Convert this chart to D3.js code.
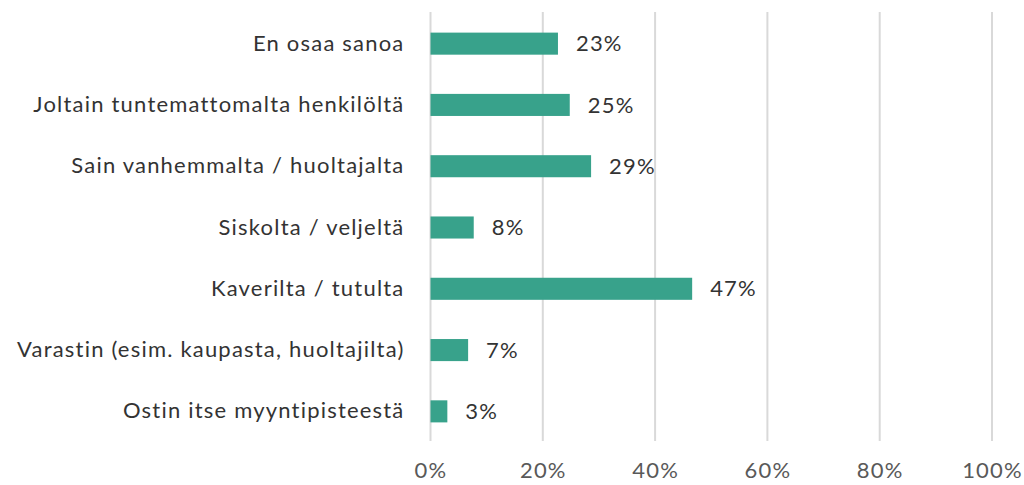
<!DOCTYPE html>
<html>
<head>
<meta charset="utf-8">
<script src="https://cdn.jsdelivr.net/npm/d3@7"></script>
<style>
  body { margin: 0; background: #fff; }
  text { font-family: Lato, "Open Sans", sans-serif; font-size: 22px; letter-spacing: 1.2px; }
</style>
</head>
<body>
<svg class="chart" width="1024" height="485"></svg>
<script>
// rows, top to bottom
var categories = [
    "En osaa sanoa",
    "Joltain tuntemattomalta henkilöltä",
    "Sain vanhemmalta / huoltajalta",
    "Siskolta / veljeltä",
    "Kaverilta / tutulta",
    "Varastin (esim. kaupasta, huoltajilta)",
    "Ostin itse myyntipisteestä"
];
var values = [0.227, 0.248, 0.286, 0.077, 0.466, 0.067, 0.030];
var tickValues = [0, 0.2, 0.4, 0.6, 0.8, 1.0];

var margin = {top: 13, right: 32, bottom: 43, left: 430.5};
var svg = d3.select(".chart");
var w = +svg.attr("width") - margin.left - margin.right;
var h = +svg.attr("height") - margin.top - margin.bottom;

var g = svg.append("g").attr("transform", "translate(" + margin.left + "," + margin.top + ")");

var xScale = d3.scaleLinear().domain([0, 1]).range([0, w]);
var yScale = d3.scaleBand().domain(categories).range([0, h]).paddingInner(0.64).paddingOuter(0.32);

var fmt = d3.format(".0%");

// gridlines
g.selectAll("line.grid")
    .data(tickValues)
    .enter()
    .append("line")
    .attr("class", "grid")
    .attr("x1", function(d) { return xScale(d); })
    .attr("x2", function(d) { return xScale(d); })
    .attr("y1", -1)
    .attr("y2", h - 1)
    .attr("stroke", "#d9d9d9")
    .attr("stroke-width", 2);

// x axis labels
var xAxis = d3.axisBottom(xScale).tickValues(tickValues).tickFormat(fmt).tickSize(0).tickPadding(20);
var ax = g.append("g").attr("transform", "translate(0," + h + ")").call(xAxis);
ax.select(".domain").remove();
ax.selectAll("text")
    .attr("fill", "#595959")
    .style("font-size", "22px")
    .style("font-family", null);

// category labels
var yAxis = d3.axisLeft(yScale).tickSize(0).tickPadding(26);
var ay = g.append("g").call(yAxis);
ay.select(".domain").remove();
ay.selectAll("text")
    .attr("fill", "#333333")
    .style("font-size", "22px");
ay.attr("font-family", null).attr("font-size", null);
ax.attr("font-family", null).attr("font-size", null);

// bars
g.selectAll("rect.bar")
    .data(values)
    .enter()
    .append("rect")
    .attr("class", "bar")
    .attr("x", xScale(0))
    .attr("y", function(d, i) { return yScale(categories[i]); })
    .attr("width", function(d) { return xScale(d) - xScale(0); })
    .attr("height", yScale.bandwidth())
    .attr("fill", "#38a28b");

// value labels
g.selectAll("text.val")
    .data(values)
    .enter()
    .append("text")
    .attr("class", "val")
    .attr("x", function(d) { return xScale(d) + 18; })
    .attr("y", function(d, i) { return yScale(categories[i]) + yScale.bandwidth() / 2; })
    .attr("dy", "0.35em")
    .attr("fill", "#333333")
    .text(function(d) { return fmt(d); });
</script>
</body>
</html>
